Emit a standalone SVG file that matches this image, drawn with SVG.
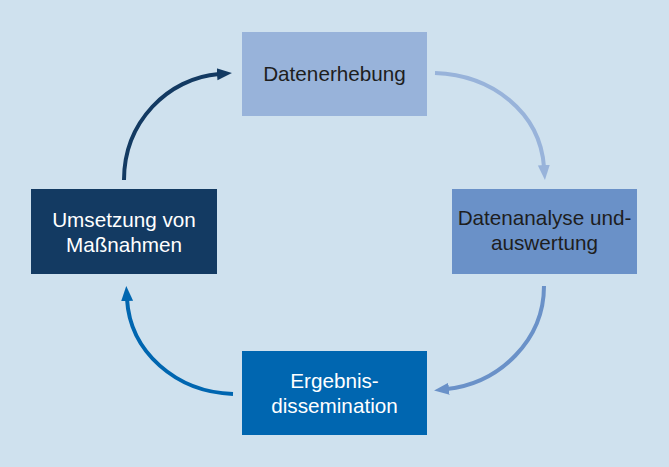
<svg xmlns="http://www.w3.org/2000/svg" width="669" height="467" viewBox="0 0 669 467">
<style>
text{font-family:"Liberation Sans",Arial,sans-serif;font-size:20.7px;text-anchor:middle}
.dk{fill:#1e1e1e}.lt{fill:#ffffff}
.c{fill:none;stroke-width:4}
</style>
<defs>
<marker id="m1" markerUnits="userSpaceOnUse" markerWidth="16" markerHeight="14" refX="2" refY="7" orient="auto" viewBox="0 0 16 14"><path d="M0,1 L15,7 L0,13 z" fill="#98b3da"/></marker>
<marker id="m2" markerUnits="userSpaceOnUse" markerWidth="16" markerHeight="14" refX="2" refY="7" orient="auto" viewBox="0 0 16 14"><path d="M0,1 L15,7 L0,13 z" fill="#6a91c8"/></marker>
<marker id="m3" markerUnits="userSpaceOnUse" markerWidth="16" markerHeight="14" refX="2" refY="7" orient="auto" viewBox="0 0 16 14"><path d="M0,1 L15,7 L0,13 z" fill="#0066b0"/></marker>
<marker id="m4" markerUnits="userSpaceOnUse" markerWidth="16" markerHeight="14" refX="2" refY="7" orient="auto" viewBox="0 0 16 14"><path d="M0,1 L15,7 L0,13 z" fill="#133a62"/></marker>
</defs>
<rect width="669" height="467" fill="#cfe1ee"/>
<g id="connectors">
<path class="c" stroke="#98b3da" d="M435,73 C492,75 540,112 544,167" marker-end="url(#m1)"/>
<path class="c" stroke="#6a91c8" d="M544,286 C544,340 500,383 447,389" marker-end="url(#m2)"/>
<path class="c" stroke="#0066b0" d="M233,394 C176,392 130,352 127,299" marker-end="url(#m3)"/>
<path class="c" stroke="#133a62" d="M124,180 C124,122 168,78 219,74" marker-end="url(#m4)"/>
</g>
<g id="datenerhebung">
<rect x="242" y="32" width="185" height="84" fill="#98b3da"/>
<text class="dk" x="334.5" y="81">Datenerhebung</text>
</g>
<g id="datenanalyse">
<rect x="452" y="189" width="185" height="85" fill="#6a91c8"/>
<text class="dk" x="544.5" y="225">Datenanalyse und-</text>
<text class="dk" x="544.5" y="250">auswertung</text>
</g>
<g id="ergebnisdissemination">
<rect x="242" y="351" width="185" height="84" fill="#0066b0"/>
<text class="lt" x="334.5" y="388">Ergebnis-</text>
<text class="lt" x="334.5" y="413">dissemination</text>
</g>
<g id="umsetzung">
<rect x="31" y="189" width="186" height="85" fill="#133a62"/>
<text class="lt" x="124" y="227">Umsetzung von</text>
<text class="lt" x="124" y="252">Maßnahmen</text>
</g>
</svg>
